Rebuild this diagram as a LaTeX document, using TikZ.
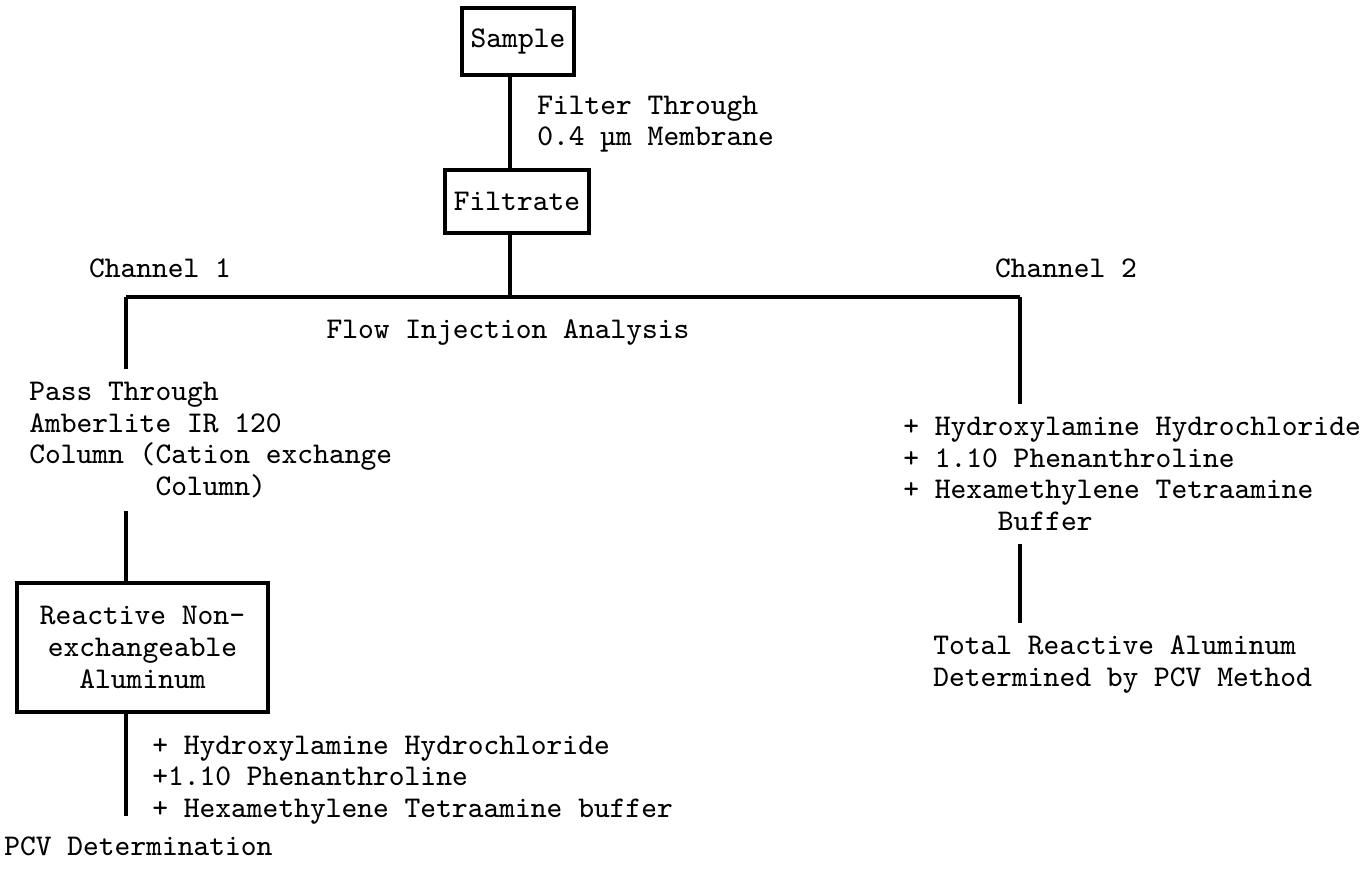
\documentclass[tikz,border=0pt]{standalone}
\begin{document}
\begin{tikzpicture}[line width=0.9pt, font=\ttfamily\fontsize{8.55}{9}\selectfont,
        box/.style={draw, line width=1.1pt, inner sep=2pt, align=center},
        txt/.style={align=left, anchor=west}]
            \useasboundingbox (0,0) rectangle (13.66,-8.83);
            \coordinate (trunk) at (5.10,-2.97);
            \coordinate (lft) at (1.26,-2.97);
            \coordinate (rgt) at (10.20,-2.97);
            \node[box, minimum width=1.12cm, minimum height=0.67cm] (sample) at (5.18,-0.415) {Sample};
            \node[txt] (filter) at (5.24,-1.24) {Filter Through\\0.4 µm Membrane};
            \node[box, minimum width=1.44cm, minimum height=0.63cm] (filtrate) at (5.17,-2.015) {Filtrate};
            \node (chan1) at (1.60,-2.68) {Channel 1};
            \node (chan2) at (10.66,-2.68) {Channel 2};
            \node (fia) at (5.08,-3.33) {Flow Injection Analysis};
            \node[txt] (pass) at (0.16,-4.40) {Pass Through\\Amberlite IR 120\\Column (Cation exchange\\\phantom{xxxxxxxx}Column)};
            \node[box, minimum width=2.51cm, minimum height=1.29cm] (reactive) at (1.425,-6.475) {Reactive Non-\\exchangeable\\Aluminum};
            \node[txt] (reag1) at (1.39,-7.80) {+ Hydroxylamine Hydrochloride\\+1.10 Phenanthroline\\+ Hexamethylene Tetraamine buffer};
            \node[txt] (pcv) at (-0.09,-8.46) {PCV Determination};
            \node[txt] (reag2) at (8.90,-4.74) {+ Hydroxylamine Hydrochloride\\+ 1.10 Phenanthroline\\+ Hexamethylene Tetraamine\\\phantom{xxxxxx}Buffer};
            \node[txt] (total) at (9.20,-6.645) {Total Reactive Aluminum\\Determined by PCV Method};
            \draw (trunk |- sample.south) -- (trunk |- filtrate.north);
            \draw (trunk |- filtrate.south) -- (trunk);
            \draw (lft) -- (rgt);
            \draw (lft) -- (lft |- pass.north);
            \draw (lft |- pass.south) -- (lft |- reactive.north);
            \draw[shorten >=2pt] (lft |- reactive.south) -- (lft |- pcv.north);
            \draw (rgt) -- (rgt |- reag2.north);
            \draw (rgt |- reag2.south) -- (rgt |- total.north);
        \end{tikzpicture}
\end{document}
